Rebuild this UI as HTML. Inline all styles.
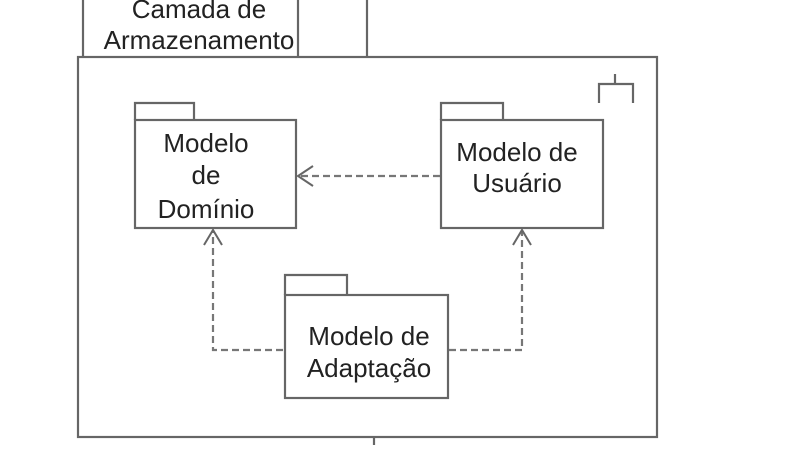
<!DOCTYPE html>
<html><head><meta charset="utf-8"><style>
html,body{margin:0;padding:0;background:#fff;}
svg{display:block}
text{font-family:"Liberation Sans",sans-serif;font-size:26px;fill:#222;text-anchor:middle}
</style></head><body>
<svg width="800" height="450" viewBox="0 0 800 450">
<g fill="none" stroke="#666" stroke-width="2.2">
<line x1="83" y1="0" x2="83" y2="57"/>
<line x1="298" y1="0" x2="298" y2="57"/>
<line x1="367" y1="0" x2="367" y2="57"/>
<rect x="78" y="57" width="579" height="380"/>
<line x1="374" y1="437" x2="374" y2="445"/>
<path d="M599 103 V84 H633 V103 M615 84 V74"/>
<path d="M135 120 V103 H194 V120"/>
<rect x="135" y="120" width="161" height="108"/>
<path d="M441 120 V103 H503 V120"/>
<rect x="441" y="120" width="162" height="108"/>
<path d="M285 295 V275 H347 V295"/>
<rect x="285" y="295" width="163" height="103"/>
</g>
<g fill="none" stroke="#777" stroke-width="2.2" stroke-dasharray="7,4">
<line x1="440" y1="176" x2="300" y2="176"/>
<path d="M283 350 H213 V232"/>
<path d="M449 350 H522 V232"/>
</g>
<g fill="none" stroke="#666" stroke-width="2">
<path d="M313 166 L298 176 L313 186"/>
<path d="M204 245 L213 230 L222 245"/>
<path d="M513 245 L522 230 L531 245"/>
</g>
<text x="199" y="18">Camada de</text>
<text x="199" y="49">Armazenamento</text>
<text x="206" y="152">Modelo</text>
<text x="206" y="184">de</text>
<text x="206" y="218">Domínio</text>
<text x="517" y="161">Modelo de</text>
<text x="517" y="192">Usuário</text>
<text x="369" y="345">Modelo de</text>
<text x="369" y="377">Adaptação</text>
</svg>
</body></html>
